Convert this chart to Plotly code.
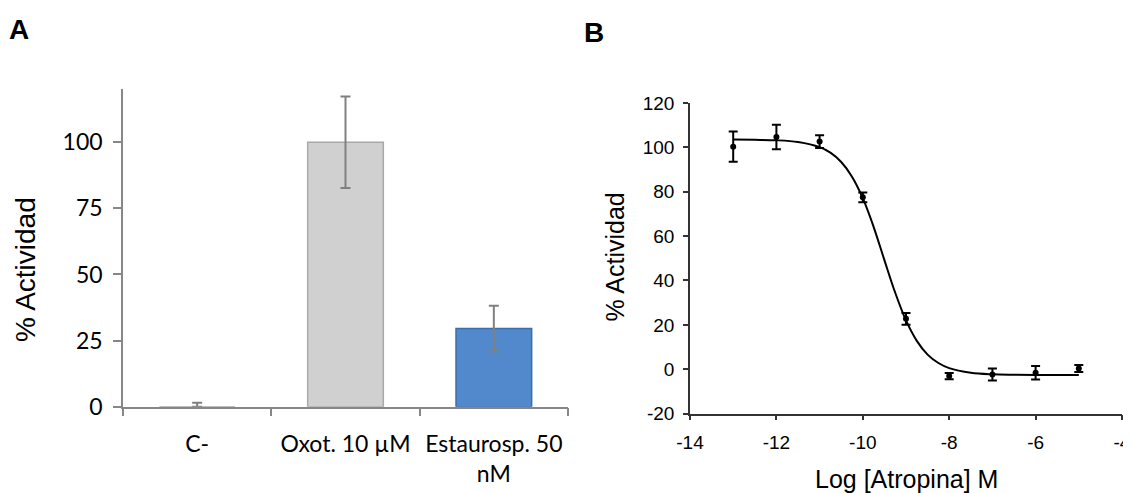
import plotly.graph_objects as go

# page has an 8px body margin: the figure is drawn 8px in from the top-left
OFF = 8
W, H = 1131 - OFF, 493 - OFF

# ---------- Panel A data ----------
categories_a = ["C-", "Oxot. 10 µM", "Estaurosp. 50<br>nM"]
values_a = [0, 100, 29.6]
err_plus_a = [1.5, 17.3, 8.6]
err_minus_a = [0, 17.3, 8.6]
bar_colors_a = ["#cfcfcf", "#d0d0d0", "#5289cc"]
bar_lines_a = ["#a8a8a8", "#a8a8a8", "#3d6ea8"]
yticks_a = [0, 25, 50, 75, 100]

# ---------- Panel B data ----------
log_atropina = [-13, -12, -11, -10, -9, -8, -7, -6, -5]
actividad_b = [100.3, 104.7, 102.6, 77.5, 22.7, -3.1, -2.4, -1.6, 0.3]
err_b = [6.8, 5.5, 2.9, 2.2, 2.7, 1.4, 2.7, 3.0, 1.6]
curve_x = [-13, -12.5, -12, -11.5, -11, -10.75, -10.5, -10.25, -10, -9.75, -9.5,
           -9.25, -9, -8.75, -8.5, -8.25, -8, -7.5, -7, -6.5, -6, -5.5, -5]
curve_y = [103.5, 103.4, 103.2, 102.4, 100.1, 97.6, 93.4, 86.8, 77.1, 64.2, 49.2,
           34.5, 22.0, 12.8, 6.6, 2.8, 0.5, -1.6, -2.3, -2.5, -2.6, -2.6, -2.6]
xticks_b = [-14, -12, -10, -8, -6, -4]
yticks_b = [-20, 0, 20, 40, 60, 80, 100, 120]


def px(x):
    return (x - OFF) / W


def py(y):
    return 1 - (y - OFF) / H


fig = go.Figure()

fig.add_trace(go.Bar(
    x=categories_a, y=values_a, width=0.51,
    marker=dict(color=bar_colors_a, line=dict(color=bar_lines_a, width=1.5)),
    error_y=dict(type="data", array=err_plus_a, arrayminus=err_minus_a,
                 symmetric=False, color="#808080", thickness=2, width=5),
    xaxis="x", yaxis="y", showlegend=False,
))

fig.add_trace(go.Scatter(
    x=curve_x, y=curve_y, mode="lines", line=dict(color="black", width=2, shape="spline"),
    xaxis="x2", yaxis="y2", showlegend=False,
))
fig.add_trace(go.Scatter(
    x=log_atropina, y=actividad_b, mode="markers",
    marker=dict(color="black", size=6),
    error_y=dict(type="data", array=err_b, color="black", thickness=2, width=4.5),
    xaxis="x2", yaxis="y2", showlegend=False,
))

font_a = "Lato, 'Open Sans', sans-serif"
font_b = "Arial, 'Liberation Sans', sans-serif"


def ann(text, x, y, size, angle=0):
    return dict(text=text, x=px(x), y=py(y), xref="paper", yref="paper",
                xanchor="center", yanchor="middle", textangle=angle,
                showarrow=False, font=dict(family=font_b, size=size, color="black"))


fig.update_layout(
    template="none",
    width=W, height=H,
    margin=dict(l=0, r=0, t=0, b=0, autoexpand=False),
    paper_bgcolor="white", plot_bgcolor="white",
    xaxis=dict(domain=[px(123), px(568)], anchor="y", range=[-0.5, 2.5],
               automargin=False, tickangle=0,
               showline=True, linecolor="#878787", linewidth=1.5,
               ticks="outside", ticklen=8, tickcolor="#878787", tickwidth=1.5,
               tickson="boundaries", showgrid=False, zeroline=False,
               tickfont=dict(family=font_a, size=23, color="black"),
               ticklabelstandoff=16),
    yaxis=dict(domain=[py(406.7), py(89.3)], anchor="x", range=[0, 120],
               automargin=False,
               tickvals=yticks_a, showline=True, linecolor="#878787", linewidth=1.5,
               ticks="outside", ticklen=8, tickcolor="#878787", tickwidth=1.5,
               showgrid=False, zeroline=False,
               tickfont=dict(family=font_a, size=23, color="black"),
               ticklabelstandoff=6),
    xaxis2=dict(domain=[px(690), px(1122)], anchor="y2", range=[-14, -4],
                automargin=False, tickangle=0,
                tickvals=xticks_b, ticktext=[str(v) for v in xticks_b],
                showline=True, linecolor="#333333", linewidth=1.5,
                ticks="outside", ticklen=5, tickcolor="#333333", tickwidth=1.5,
                showgrid=False, zeroline=False,
                tickfont=dict(family=font_b, size=19, color="black"),
                ticklabelstandoff=6),
    yaxis2=dict(domain=[py(413.6), py(103)], anchor="x2", range=[-20, 120],
                automargin=False,
                tickvals=yticks_b, ticktext=[str(v) for v in yticks_b],
                showline=True, linecolor="#333333", linewidth=1.5,
                ticks="outside", ticklen=5, tickcolor="#333333", tickwidth=1.5,
                showgrid=False, zeroline=False,
                tickfont=dict(family=font_b, size=19, color="black"),
                ticklabelstandoff=5),
    annotations=[
        ann("<b>A</b>", 19, 30, 28),
        ann("<b>B</b>", 594, 32, 28),
        ann("% Actividad", 25, 270, 28, -90),
        ann("% Actividad", 615, 257.5, 25, -90),
        ann("Log [Atropina] M", 906, 479, 25),
    ],
)

fig.write_html("out.html")
